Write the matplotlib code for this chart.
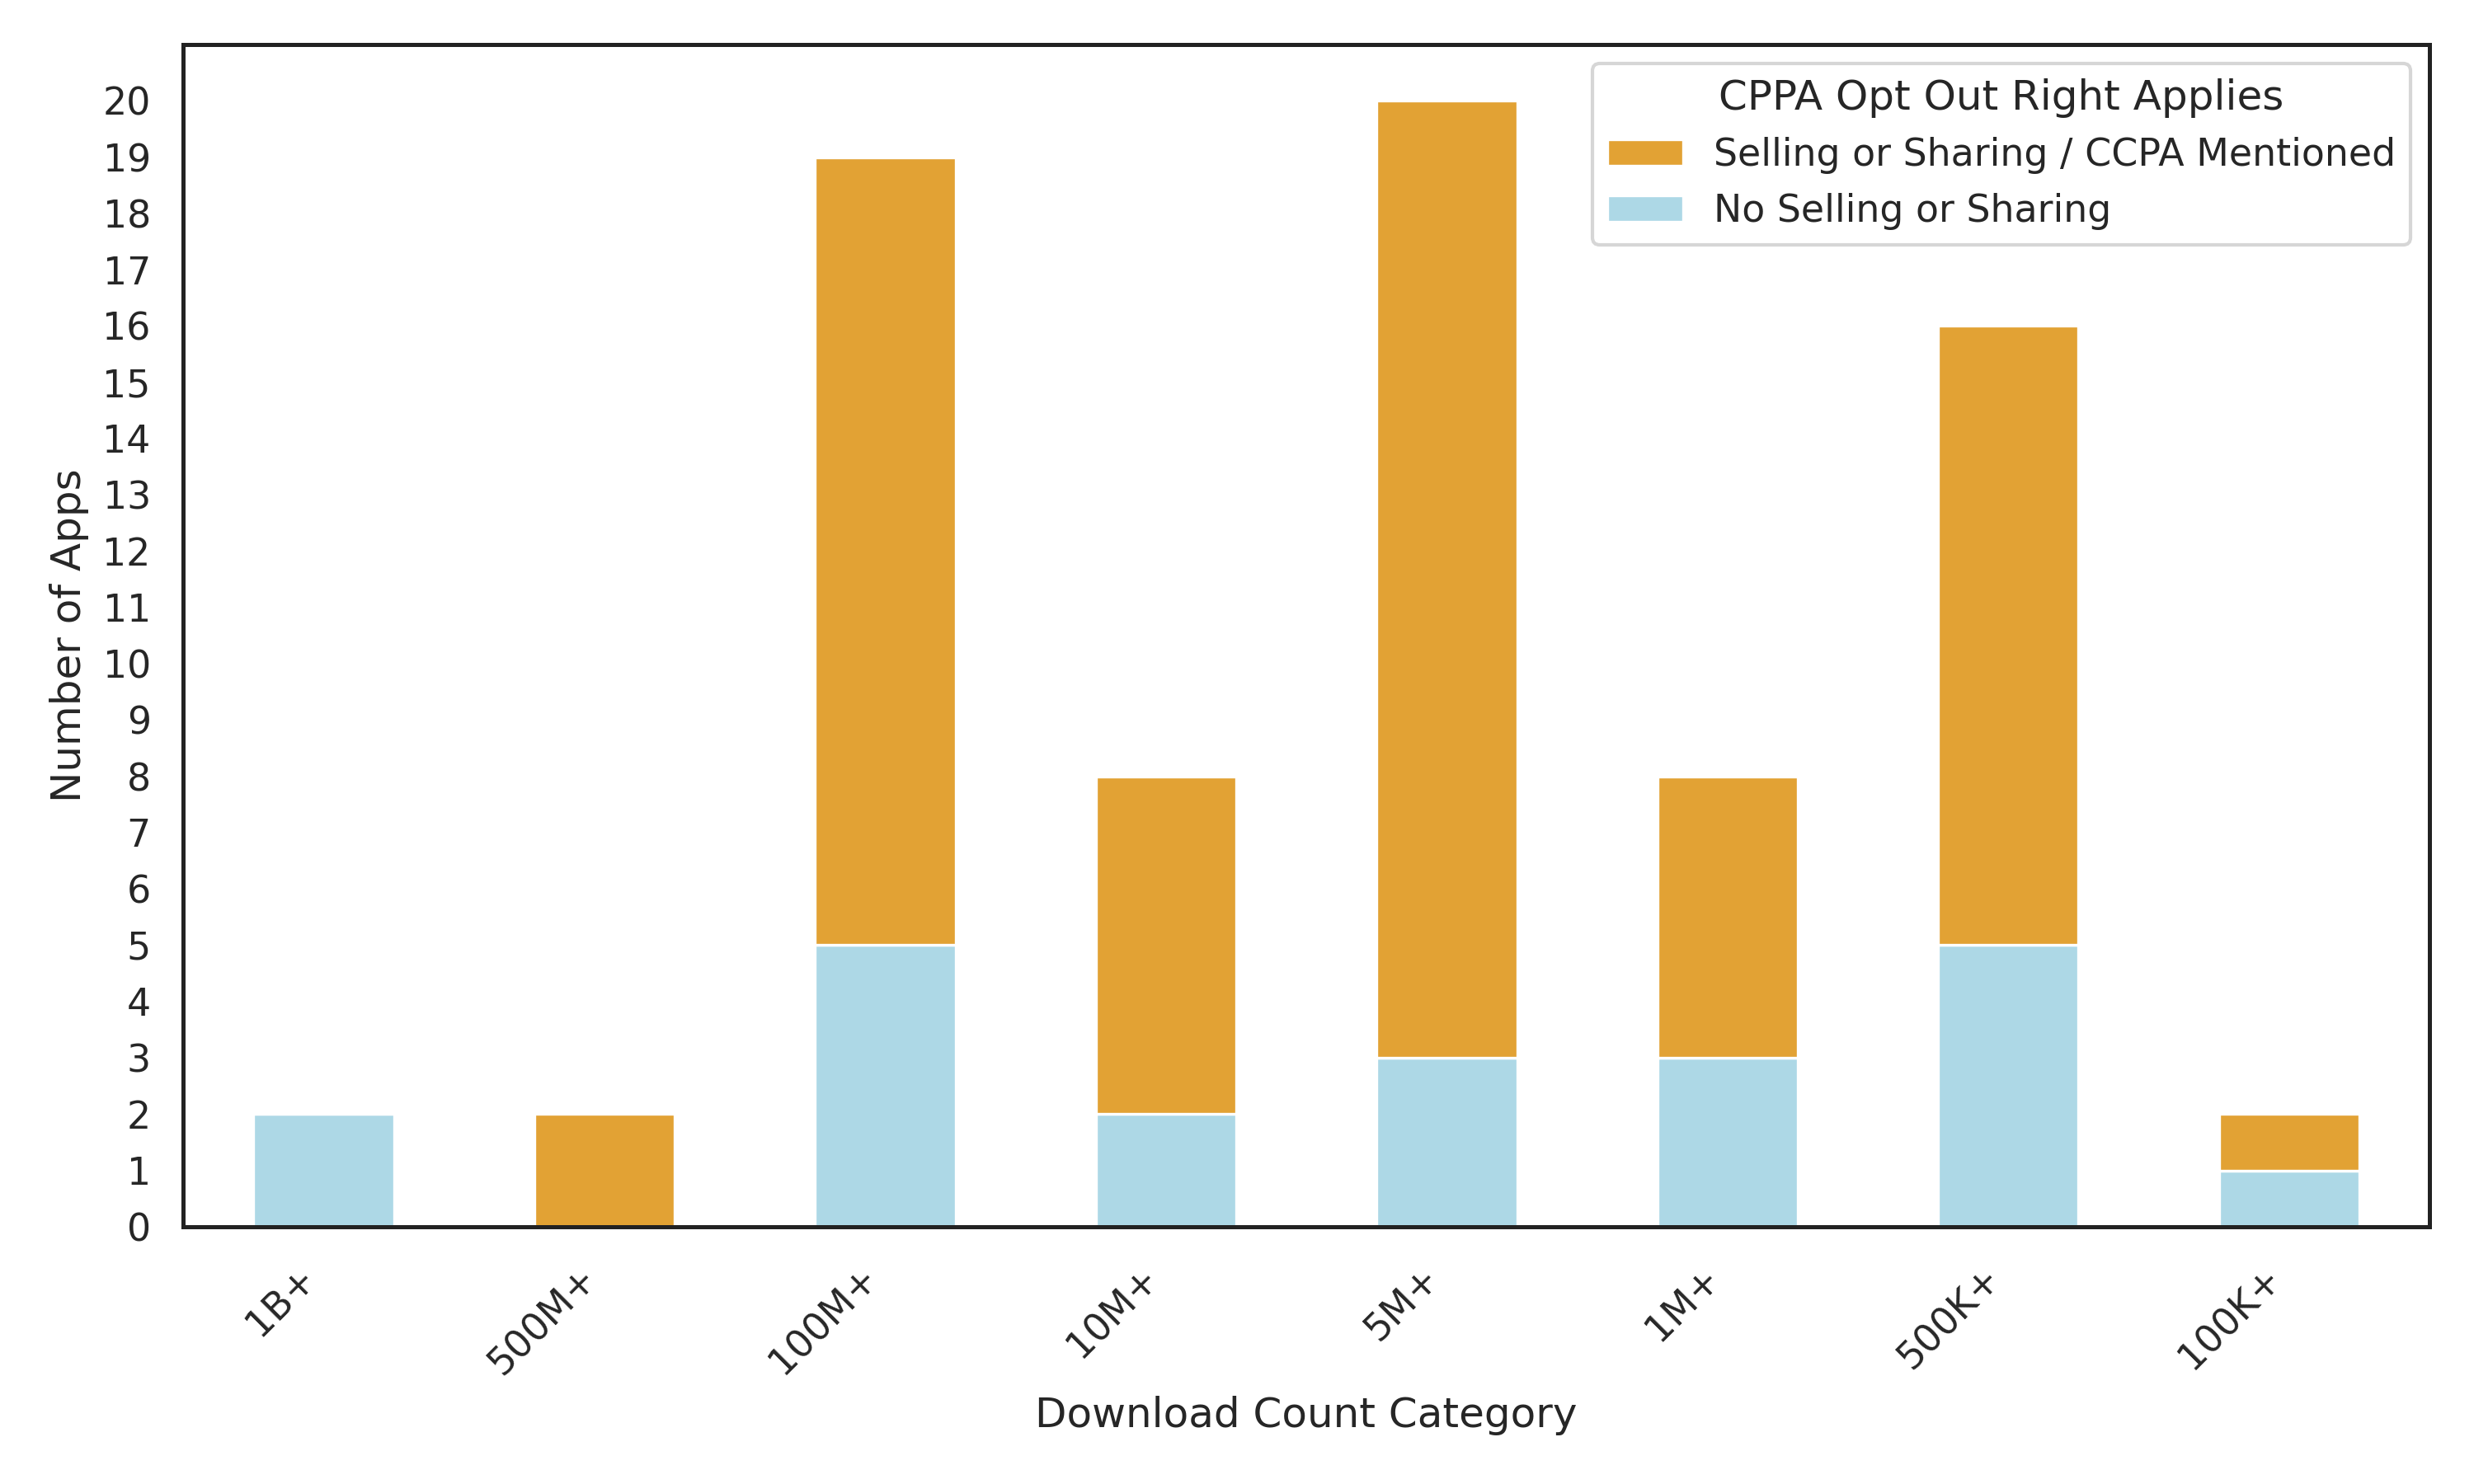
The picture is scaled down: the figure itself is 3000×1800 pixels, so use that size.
import numpy as np
import matplotlib
matplotlib.use("Agg")
import matplotlib.pyplot as plt
import seaborn as sns

categories = ["1B+", "500M+", "100M+", "10M+", "5M+", "1M+", "500K+", "100K+"]
no_selling = [2, 0, 5, 2, 3, 3, 5, 1]
selling = [0, 2, 14, 6, 17, 5, 11, 1]

sns.set_theme(style="white")
plt.rcParams['font.family'] = ['DejaVu Sans']

fig, ax = plt.subplots(figsize=(10, 6))
x = np.arange(len(categories))

ax.bar(x, no_selling, width=0.5, color="#ADD8E6", edgecolor="white", linewidth=0.8,
       label="No Selling or Sharing")
ax.bar(x, selling, width=0.5, bottom=no_selling, color="#E2A234", edgecolor="white",
       linewidth=0.8, label="Selling or Sharing / CCPA Mentioned")

ax.set_xlim(-0.5, len(categories) - 0.5)
ax.set_ylim(0, 21)
ax.set_yticks(np.arange(0, 21, 1))
ax.set_xticks(x)
ax.set_xticklabels(categories, rotation=45, ha="right")

for s in ax.spines.values():
    s.set_color("#222222")
    s.set_linewidth(1.2)

handles, labels = ax.get_legend_handles_labels()
ax.legend(handles[::-1], labels[::-1], title="CPPA Opt Out Right Applies", loc="upper right")

ax.set_xlabel("Download Count Category")
ax.set_ylabel("Number of Apps")

plt.tight_layout()
plt.savefig("out.png", dpi=300)
